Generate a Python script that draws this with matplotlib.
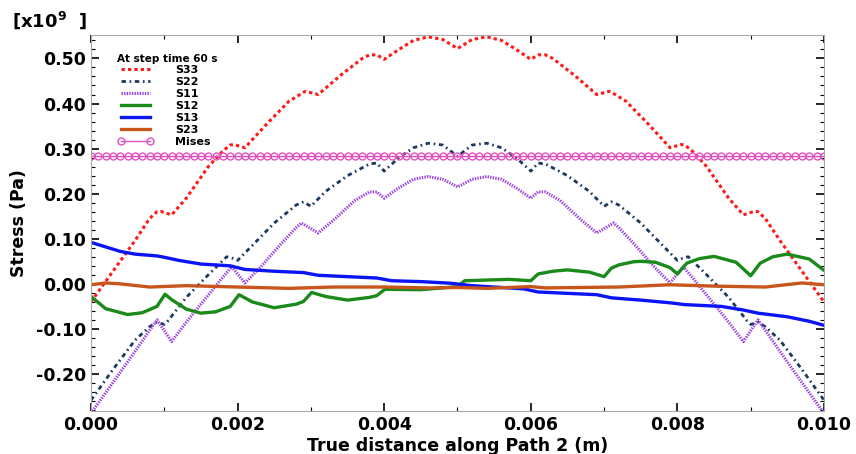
import matplotlib
matplotlib.use("Agg")
import matplotlib.pyplot as plt
from matplotlib.ticker import MultipleLocator, FormatStrFormatter

plt.rcParams['font.family'] = ['DejaVu Sans']
plt.rcParams['font.weight'] = 'bold'

# stress along path (units of 1e9 Pa), x in m
s33_x = [0.0, 0.0003, 0.0006, 0.0008, 0.0009, 0.00095, 0.0011, 0.0013, 0.0016, 0.0018, 0.0019, 0.00195,
         0.0021, 0.0024, 0.0027, 0.0029, 0.00293, 0.0031, 0.0034, 0.0037, 0.0038, 0.0039, 0.0040, 0.0042,
         0.0044, 0.0046, 0.0048, 0.0050, 0.0052, 0.0054, 0.0056, 0.0058, 0.0060, 0.0061, 0.0062, 0.0063,
         0.0066, 0.0069, 0.00707, 0.0071, 0.0073, 0.0076, 0.0079, 0.00805, 0.0081, 0.0082, 0.0084, 0.0087,
         0.0089, 0.00905, 0.0091, 0.0092, 0.0094, 0.0097, 0.0100]
s33 = [-0.040, 0.028, 0.096, 0.145, 0.160, 0.161, 0.153, 0.19, 0.26, 0.295, 0.308, 0.309,
       0.302, 0.355, 0.405, 0.425, 0.427, 0.420, 0.462, 0.500, 0.508, 0.508, 0.498, 0.52,
       0.540, 0.548, 0.542, 0.522, 0.542, 0.548, 0.540, 0.52, 0.498, 0.508, 0.508, 0.500,
       0.462, 0.420, 0.427, 0.425, 0.405, 0.355, 0.302, 0.309, 0.308, 0.295, 0.26, 0.19,
       0.153, 0.161, 0.160, 0.145, 0.096, 0.028, -0.040]

s22_x = [0.0, 0.0003, 0.0006, 0.0008, 0.0009, 0.0010, 0.00105, 0.0013, 0.0016, 0.0018, 0.00185, 0.0019,
         0.0020, 0.0022, 0.0025, 0.0028, 0.0029, 0.0030, 0.0032, 0.0035, 0.0038, 0.0039, 0.0040, 0.0042,
         0.0044, 0.0046, 0.0048, 0.0050, 0.0052, 0.0054, 0.0056, 0.0058, 0.0060, 0.0061, 0.0062, 0.0065,
         0.0068, 0.0070, 0.0071, 0.0072, 0.0075, 0.0078, 0.0080, 0.0081, 0.00815, 0.0082, 0.0084, 0.0087,
         0.00895, 0.0090, 0.0091, 0.0092, 0.0094, 0.0097, 0.0100]
s22 = [-0.258, -0.19, -0.125, -0.095, -0.085, -0.090, -0.082, -0.03, 0.02, 0.052, 0.060, 0.059,
       0.052, 0.085, 0.135, 0.175, 0.182, 0.172, 0.205, 0.24, 0.266, 0.268, 0.250, 0.28,
       0.302, 0.312, 0.308, 0.283, 0.308, 0.312, 0.302, 0.28, 0.250, 0.268, 0.266, 0.24,
       0.205, 0.172, 0.182, 0.175, 0.135, 0.085, 0.052, 0.059, 0.060, 0.052, 0.02, -0.03,
       -0.082, -0.090, -0.085, -0.095, -0.125, -0.19, -0.258]

s11_x = [0.0, 0.0003, 0.0006, 0.0008, 0.0009, 0.0011, 0.0013, 0.0016, 0.0018, 0.00192, 0.0021, 0.0023,
         0.0026, 0.0028, 0.00287, 0.0031, 0.0033, 0.0036, 0.0038, 0.0039, 0.0040, 0.0042, 0.0044, 0.0046,
         0.0048, 0.0050, 0.0052, 0.0054, 0.0056, 0.0058, 0.0060, 0.0061, 0.0062, 0.0064, 0.0067, 0.0069,
         0.00713, 0.0072, 0.0074, 0.0077, 0.0079, 0.00808, 0.0082, 0.0084, 0.0087, 0.0089, 0.0091, 0.0092,
         0.0094, 0.0097, 0.0100]
s11 = [-0.287, -0.219, -0.150, -0.103, -0.080, -0.128, -0.085, -0.025, 0.015, 0.038, 0.002, 0.035,
       0.09, 0.125, 0.135, 0.113, 0.14, 0.185, 0.204, 0.204, 0.190, 0.213, 0.232, 0.238,
       0.232, 0.215, 0.232, 0.238, 0.232, 0.213, 0.190, 0.204, 0.204, 0.185, 0.14, 0.113,
       0.135, 0.125, 0.09, 0.035, 0.002, 0.038, 0.015, -0.025, -0.085, -0.128, -0.080, -0.103,
       -0.150, -0.219, -0.287]

s12_x = [0.0, 0.0002, 0.0005, 0.0007, 0.0009, 0.00101, 0.0011, 0.0013, 0.0015, 0.0017, 0.0019, 0.00202,
         0.0022, 0.0025, 0.0028, 0.0029, 0.00301, 0.0032, 0.0035, 0.0038, 0.0039, 0.00401, 0.0045, 0.0050,
         0.0051, 0.0057, 0.0060, 0.0061, 0.0063, 0.0065, 0.0068, 0.0070, 0.0071, 0.0072, 0.0074, 0.0075,
         0.0077, 0.0079, 0.0080, 0.00813, 0.0083, 0.0085, 0.0088, 0.0090, 0.00913, 0.0093, 0.0095, 0.0098,
         0.0100]
s12 = [-0.028, -0.055, -0.068, -0.064, -0.050, -0.023, -0.035, -0.056, -0.065, -0.062, -0.050, -0.024,
       -0.040, -0.053, -0.045, -0.039, -0.019, -0.028, -0.036, -0.030, -0.026, -0.012, -0.013, -0.006,
       0.007, 0.010, 0.007, 0.022, 0.028, 0.031, 0.026, 0.016, 0.035, 0.042, 0.049, 0.050,
       0.048, 0.036, 0.022, 0.046, 0.056, 0.061, 0.048, 0.018, 0.046, 0.060, 0.066, 0.055,
       0.030]

s13_x = [0.0, 0.0002, 0.0004, 0.0006, 0.0009, 0.0010, 0.0012, 0.0015, 0.0018, 0.0019, 0.0021, 0.0025,
         0.0029, 0.0031, 0.0035, 0.0039, 0.0041, 0.0045, 0.0049, 0.0052, 0.0056, 0.0059, 0.0061, 0.0065,
         0.0069, 0.0071, 0.0075, 0.0079, 0.0081, 0.0086, 0.0089, 0.0091, 0.0095, 0.0098, 0.0100]
s13 = [0.092, 0.082, 0.072, 0.066, 0.062, 0.059, 0.052, 0.044, 0.041, 0.040, 0.032, 0.028,
       0.025, 0.019, 0.016, 0.013, 0.007, 0.005, 0.0015, -0.004, -0.008, -0.011, -0.018, -0.021,
       -0.024, -0.031, -0.036, -0.042, -0.046, -0.050, -0.058, -0.065, -0.073, -0.083, -0.092]

s23_x = [0.0, 0.0002, 0.0004, 0.0008, 0.0013, 0.0020, 0.0027, 0.0033, 0.0040, 0.0046, 0.0050, 0.0054,
         0.0060, 0.0062, 0.0067, 0.0072, 0.0079, 0.0085, 0.0092, 0.0097, 0.0100]
s23 = [-0.002, 0.002, 0.000, -0.007, -0.004, -0.007, -0.010, -0.007, -0.007, -0.009, -0.008, -0.010,
       -0.006, -0.009, -0.008, -0.007, -0.002, -0.005, -0.007, 0.002, -0.002]

mises_x = [i * 0.0001 for i in range(101)]
mises = [0.283] * 101

fig = plt.figure(figsize=(8.56, 4.54), dpi=100)
ax = fig.add_axes([0.1063, 0.0947, 0.8563, 0.8282])

ax.plot(s33_x, s33, color='#ff1a1a', lw=2.2, ls=(0, (1.1, 1.0)), label='S33')
ax.plot(s22_x, s22, color='#1c3a5e', lw=2.0, ls=(0, (1.6, 1.3, 0.6, 1.3)), label='S22')
ax.plot(s11_x, s11, color='#9a3fe0', lw=2.2, ls=(0, (0.45, 0.4)), label='S11')
ax.plot(s12_x, s12, color='#1a8a1a', lw=2.4, label='S12')
ax.plot(s13_x, s13, color='#0a14f5', lw=2.4, label='S13')
ax.plot(s23_x, s23, color='#c8561c', lw=2.4, label='S23')
ax.plot(mises_x, mises, color='#e050c0', lw=1.0, marker='o', ms=5, mfc='none', mew=1.0, label='Mises')

ax.set_xlim(0, 0.010)
ax.set_ylim(-0.282, 0.552)
ax.xaxis.set_major_locator(MultipleLocator(0.002))
ax.xaxis.set_minor_locator(MultipleLocator(0.001))
ax.yaxis.set_major_locator(MultipleLocator(0.1))
ax.yaxis.set_minor_locator(MultipleLocator(0.02))
ax.xaxis.set_major_formatter(FormatStrFormatter('%.3f'))
ax.yaxis.set_major_formatter(FormatStrFormatter('%.2f'))
ax.tick_params(which='both', direction='in', top=True, right=True, labelsize=12.5)
ax.tick_params(which='major', length=6, width=1.2)
ax.tick_params(which='minor', length=3, width=0.8)
for s in ax.spines.values():
    s.set_color('#a8a8a8')

ax.set_xlabel('True distance along Path 2 (m)', fontsize=12.5, fontweight='bold', labelpad=2)
ax.set_ylabel('Stress (Pa)', fontsize=12.5, fontweight='bold', labelpad=6)
fig.text(0.014, 0.956, r'[x10$^{\mathbf{9}}$  ]', fontsize=13, fontweight='bold', va='center')

leg = ax.legend(loc='upper left', bbox_to_anchor=(0.03, 0.962), frameon=False,
                title='At step time 60 s', fontsize=8, title_fontsize=7.5, numpoints=2,
                handlelength=3.2, handletextpad=2.0, labelspacing=0.18, borderaxespad=0)
leg._legend_box.align = 'left'
leg._legend_box.sep = 1
leg.get_title().set_fontweight('bold')

fig.savefig('out.png', dpi=100)
